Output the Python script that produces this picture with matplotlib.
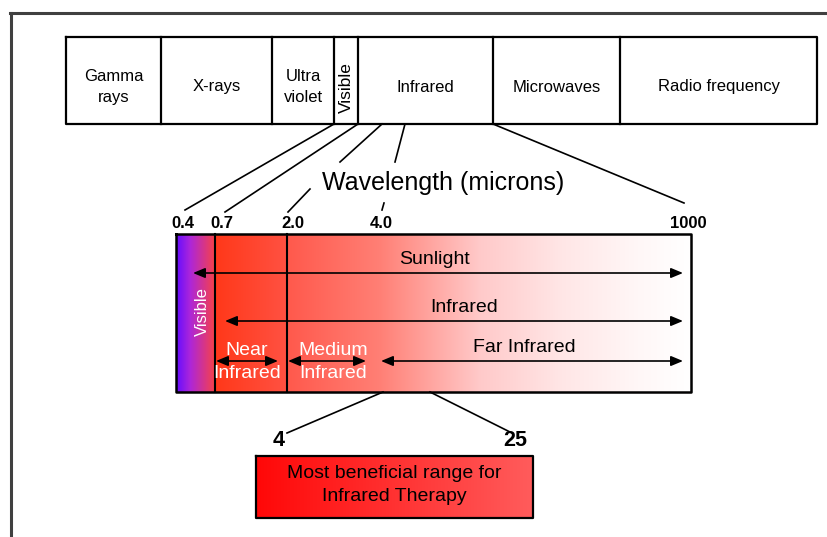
import numpy as np
import matplotlib.pyplot as plt

plt.rcParams['font.family'] = ['Liberation Sans', 'DejaVu Sans']

# spectrum bands along the top strip
band_labels = ["Gamma\nrays", "X-rays", "Ultra\nviolet", "Visible", "Infrared",
               "Microwaves", "Radio frequency"]
band_edges = [66, 161, 272, 334, 358, 493, 620, 817]

# wavelength marks (microns) under the zoomed infrared strip
wave_labels = ["0.4", "0.7", "2.0", "4.0", "1000"]
wave_x = [183, 222, 293, 381, 688]

# sub-ranges inside the gradient box: (label, x0, x1, y, label x, label y, text colour)
ranges = [
    ("Sunlight", 193, 683, 273, 435, 260, "black"),
    ("Infrared", 225, 683, 321, 464, 308, "black"),
    ("Near\nInfrared", 216, 278, 361, 247, 362, "white"),
    ("Medium\nInfrared", 288, 366, 361, 333, 362, "white"),
    ("Far Infrared", 381, 683, 361, 524, 347, "black"),
]

therapy_labels = ["4", "25"]
therapy_text = "Most beneficial range for\nInfrared Therapy"

W, H = 827, 537
fig = plt.figure(figsize=(W / 100, H / 100), dpi=100)
ax = fig.add_axes([0, 0, 1, 1])

# outer frame (only top and left visible)
ax.plot([10, W], [13, 13], color='#404040', lw=2.2)
ax.plot([11, 11], [13, H], color='#404040', lw=2.2)

# top band
top, bot = 37, 124
ax.plot([band_edges[0], band_edges[-1], band_edges[-1], band_edges[0], band_edges[0]],
        [top, top, bot, bot, top], color='black', lw=1.6)
for e in band_edges[1:-1]:
    ax.plot([e, e], [top, bot], color='black', lw=1.6)
for lab, a, b in zip(band_labels, band_edges[:-1], band_edges[1:]):
    if lab == "Visible":
        ax.text((a + b) / 2, 88, lab, rotation=90, ha='center', va='center',
                fontsize=12.5)
    else:
        ax.text((a + b) / 2, 87, lab, ha='center', va='center', fontsize=12,
                linespacing=1.55)

# connector lines band -> wavelength marks
ax.plot([334, 185], [124, 210], color='black', lw=1.2)
ax.plot([358, 225], [124, 212], color='black', lw=1.2)
ax.plot([382, 340], [124, 162], color='black', lw=1.2)
ax.plot([310, 288], [189, 212], color='black', lw=1.2)
ax.plot([405, 395], [124, 162], color='black', lw=1.2)
ax.plot([384, 382], [203, 210], color='black', lw=1.2)
ax.plot([493, 684], [124, 203], color='black', lw=1.2)

ax.text(443, 183, "Wavelength (microns)", ha='center', va='center', fontsize=18)

for lab, x in zip(wave_labels, wave_x):
    ax.text(x, 223, lab, ha='center', va='center', fontsize=12, fontweight='bold')

# gradient box
gx0, gx1, gy0, gy1 = 176, 691, 234, 392
xs = np.arange(gx0, gx1 + 1)
pts = [176, 190, 213, 215, 287, 288, 380, 480, 560, 640, 691]
cols = np.array([
    (0.40, 0.05, 1.00), (0.68, 0.15, 0.85), (0.95, 0.25, 0.32),
    (1.00, 0.22, 0.10), (1.00, 0.32, 0.26), (1.00, 0.35, 0.30),
    (1.00, 0.50, 0.46), (1.00, 0.79, 0.79), (1.00, 0.90, 0.90),
    (1.00, 0.97, 0.97), (1.00, 1.00, 1.00)])
grad = np.stack([np.interp(xs, pts, cols[:, k]) for k in range(3)], axis=-1)
ax.imshow(grad[None, :, :], extent=(gx0, gx1, gy1, gy0), aspect='auto',
          interpolation='bilinear', zorder=1)
ax.plot([gx0, gx1, gx1, gx0, gx0], [gy0, gy0, gy1, gy1, gy0], color='black',
        lw=1.8, zorder=3)
for x in [215, 287]:
    ax.plot([x, x], [gy0, gy1], color='black', lw=1.5, zorder=3)

ax.text(202, 312, "Visible", rotation=90, ha='center', va='center',
        fontsize=12, color='white', zorder=4)

for lab, a, b, y, lx, ly, c in ranges:
    ax.annotate('', xy=(a, y), xytext=(b, y), zorder=4,
                arrowprops=dict(arrowstyle='<|-|>,head_length=0.6,head_width=0.25',
                                color='black', lw=1.2, shrinkA=0, shrinkB=0,
                                mutation_scale=12))
    ax.text(lx, ly, lab, ha='center', va='center', fontsize=14, color=c,
            linespacing=1.5, zorder=5)

# connectors to therapy box
ax.plot([383, 287], [392, 433], color='black', lw=1.2)
ax.plot([430, 512], [392, 433], color='black', lw=1.2)
ax.text(279, 441, therapy_labels[0], ha='center', va='center', fontsize=15.5,
        fontweight='bold')
ax.text(515, 441, therapy_labels[1], ha='center', va='center', fontsize=15.5,
        fontweight='bold')

# therapy box
bx0, bx1, by0, by1 = 256, 533, 456, 518
bxs = np.arange(bx0, bx1 + 1)
bgrad = np.stack([np.ones_like(bxs, dtype=float),
                  np.interp(bxs, [bx0, bx1], [0.03, 0.36]),
                  np.interp(bxs, [bx0, bx1], [0.03, 0.36])], axis=-1)
ax.imshow(bgrad[None, :, :], extent=(bx0, bx1, by1, by0), aspect='auto',
          interpolation='bilinear', zorder=1)
ax.plot([bx0, bx1, bx1, bx0, bx0], [by0, by0, by1, by1, by0], color='black',
        lw=1.6, zorder=3)
ax.text((bx0 + bx1) / 2, 485, therapy_text, ha='center', va='center',
        fontsize=14, linespacing=1.45, zorder=4)

ax.set_xlim(0, W)
ax.set_ylim(H, 0)
ax.axis('off')
fig.savefig('out.png', dpi=100)
